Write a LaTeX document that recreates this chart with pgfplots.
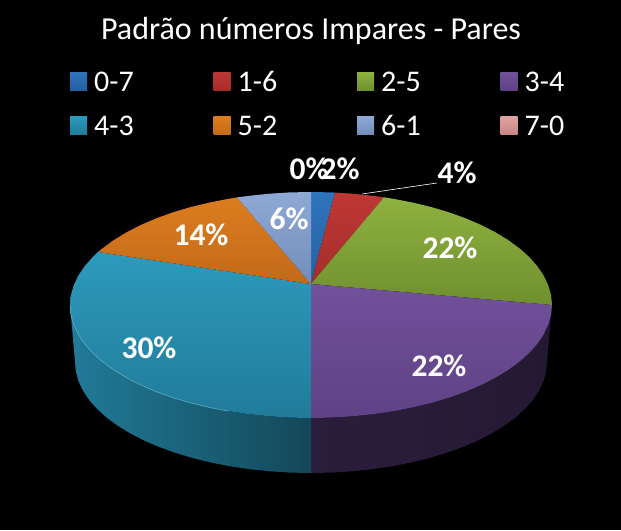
\documentclass[border=0pt]{standalone}
\usepackage{fontspec}
\setmainfont{Carlito}
\usepackage{pgfplots}
\pgfplotsset{compat=1.18}

\definecolor{bluetop}{HTML}{2F74BC}\definecolor{bluebot}{HTML}{2560A0}
\definecolor{redtop}{HTML}{BE3835}\definecolor{redbot}{HTML}{A52D2B}
\definecolor{greentop}{HTML}{8FB13F}\definecolor{greenbot}{HTML}{6F8F2E}
\definecolor{purpletop}{HTML}{71519B}\definecolor{purplebot}{HTML}{5F4285}
\definecolor{tealtop}{HTML}{2D9ABD}\definecolor{tealbot}{HTML}{217B99}
\definecolor{orangetop}{HTML}{DC7C1E}\definecolor{orangebot}{HTML}{C26A1A}
\definecolor{ltbluetop}{HTML}{8FA9D6}\definecolor{ltbluebot}{HTML}{728DBA}
\definecolor{pinktop}{HTML}{DFA3A1}\definecolor{pinkbot}{HTML}{C98583}

\newcommand{\pct}{\fontsize{31.5}{34}\selectfont\bfseries}
\tikzset{pctlabel/.style={text=white,font=\pct,inner sep=0pt}}

\begin{document}
\begin{tikzpicture}
\begin{axis}[
    scale only axis,
    width=621pt,
    height=530pt,
    xmin=0, xmax=621,
    ymin=0, ymax=530,
    y dir=reverse,
    hide axis,
    legend columns=4,
    legend cell align=left,
    legend style={
        at={(axis cs:70,71)},
        anchor=north west,
        draw=none,
        fill=none,
        inner sep=0pt,
        font=\fontsize{30}{32}\selectfont,
        text=white,
        row sep=24pt,
        nodes={inner sep=0pt,text depth=0pt,text width=48pt,anchor=west},
        /tikz/every odd column/.style={column sep=7pt},
        /tikz/every even column/.style={column sep=71.5pt},
    },
    legend image code/.code={
        \path[#1,draw=none] (0pt,-9pt) rectangle (17pt,9pt);
    },
]
% page background
\addplot[fill=black,draw=none,forget plot] coordinates {(0,0) (621,0) (621,530) (0,530)} --cycle;

% side wall, purple slice then teal slice
\addplot[left color=purplebot!45!black,right color=purplebot!38!black,draw=none,forget plot] coordinates {
(311,418) (332,417.6) (352.8,416.3) (373.4,414.1) (393.4,411.2) (412.8,407.4) (431.5,402.9)
(449.2,397.6) (465.9,391.6) (481.4,384.9) (495.6,377.6) (508.4,369.8) (519.7,361.5)
(529.4,352.8) (537.5,343.6) (543.8,334.2) (548.3,324.6) (551.1,314.9) (552,305)
(547,362) (546.1,371.7) (543.4,381.3) (539,390.7) (532.8,400) (524.9,408.9) (515.4,417.5)
(504.3,425.7) (491.8,433.3) (477.9,440.5) (462.7,447) (446.4,452.9) (429,458.1)
(410.7,462.6) (391.7,466.3) (372.1,469.2) (352,471.3) (331.6,472.6) (311,473)
} --cycle;
\addplot[left color=tealbot,middle color=tealbot!75!black,right color=tealbot!58!black,draw=none,forget plot] coordinates {
(70,305) (70.9,314.9) (73.7,324.6) (78.2,334.2) (84.5,343.6) (92.6,352.8) (102.3,361.5)
(113.6,369.8) (126.4,377.6) (140.6,384.9) (156.1,391.6) (172.8,397.6) (190.5,402.9)
(209.2,407.4) (228.6,411.2) (248.6,414.1) (269.2,416.3) (290,417.6) (311,418)
(311,473) (290.4,472.6) (270,471.3) (249.9,469.2) (230.3,466.3) (211.3,462.6) (193,458.1)
(175.6,452.9) (159.3,447) (144.1,440.5) (130.2,433.3) (117.7,425.7) (106.6,417.5)
(97.1,408.9) (89.2,400) (83,390.7) (78.6,381.3) (75.9,371.7) (75,362)
} --cycle;

% top face, one wedge for each class: 2, 4, 22, 22, 30, 14, 6, 0 percent
\addplot[top color=bluetop,bottom color=bluebot,draw=none] coordinates {
(311,284) (311,192) (332,192.4) (335,192.6)
} --cycle;
\addplot[top color=redtop,bottom color=redbot,draw=none] coordinates {
(311,284) (335,192.6) (352.8,193.7) (373.4,195.9) (384,197.3)
} --cycle;
\addplot[top color=greentop,bottom color=greenbot,draw=none] coordinates {
(311,284) (384,197.3) (393.4,198.8) (412.8,202.6) (431.5,207.1) (449.2,212.4) (465.9,218.4)
(481.4,225.1) (495.6,232.4) (508.4,240.2) (519.7,248.5) (529.4,257.2) (537.5,266.4)
(543.8,275.8) (548.3,285.4) (551.1,295.1) (552,305)
} --cycle;
\addplot[top color=purpletop,bottom color=purplebot,draw=none] coordinates {
(311,284) (552,305) (551.1,314.9) (548.3,324.6) (543.8,334.2) (537.5,343.6) (529.4,352.8)
(519.7,361.5) (508.4,369.8) (495.6,377.6) (481.4,384.9) (465.9,391.6) (449.2,397.6)
(431.5,402.9) (412.8,407.4) (393.4,411.2) (373.4,414.1) (352.8,416.3) (332,417.6) (311,418)
} --cycle;
\addplot[top color=tealtop,bottom color=tealbot,draw=none] coordinates {
(311,284) (311,418) (290,417.6) (269.2,416.3) (248.6,414.1) (228.6,411.2) (209.2,407.4)
(190.5,402.9) (172.8,397.6) (156.1,391.6) (140.6,384.9) (126.4,377.6) (113.6,369.8)
(102.3,361.5) (92.6,352.8) (84.5,343.6) (78.2,334.2) (73.7,324.6) (70.9,314.9) (70,305)
(70.9,295.1) (73.7,285.4) (78.2,275.8) (84.5,266.4) (92.6,257.2) (98,252)
} --cycle;
\addplot[top color=orangetop,bottom color=orangebot,draw=none] coordinates {
(311,284) (98,252) (102.3,248.5) (113.6,240.2) (126.4,232.4) (140.6,225.1) (156.1,218.4)
(172.8,212.4) (190.5,207.1) (209.2,202.6) (228.6,198.8) (237,197.4)
} --cycle;
\addplot[top color=ltbluetop,bottom color=ltbluebot,draw=none] coordinates {
(311,284) (237,197.4) (248.6,195.9) (269.2,193.7) (290,192.4) (311,192)
} --cycle;
\addplot[top color=pinktop,bottom color=pinkbot,draw=none] coordinates {
(311,284) (311,192)
};

% light rim along the front of the teal slice
\addplot[tealtop!70!white,line width=0.5pt,forget plot] coordinates {
(70,305) (70.9,314.9) (73.7,324.6) (78.2,334.2) (84.5,343.6) (92.6,352.8) (102.3,361.5)
(113.6,369.8) (126.4,377.6) (140.6,384.9) (156.1,391.6) (172.8,397.6) (190.5,402.9)
(209.2,407.4) (228.6,411.2)
};

% leader line of the 4% label
\addplot[white,line width=0.6pt,forget plot] coordinates {(362,194) (437,183)};

\legend{0-7,1-6,2-5,3-4,4-3,5-2,6-1,7-0}

\node[text=white,font=\fontsize{32}{34}\selectfont,inner sep=0pt] at (axis cs:311,31) {Padrão números Impares - Pares};
\node[pctlabel] at (axis cs:309,169) {0\%};
\node[pctlabel] at (axis cs:340,169) {2\%};
\node[pctlabel] at (axis cs:457,173) {4\%};
\node[pctlabel] at (axis cs:450,248) {22\%};
\node[pctlabel] at (axis cs:439,366) {22\%};
\node[pctlabel] at (axis cs:149,348) {30\%};
\node[pctlabel] at (axis cs:201,235) {14\%};
\node[pctlabel] at (axis cs:289,219) {6\%};
\end{axis}
\end{tikzpicture}
\end{document}
